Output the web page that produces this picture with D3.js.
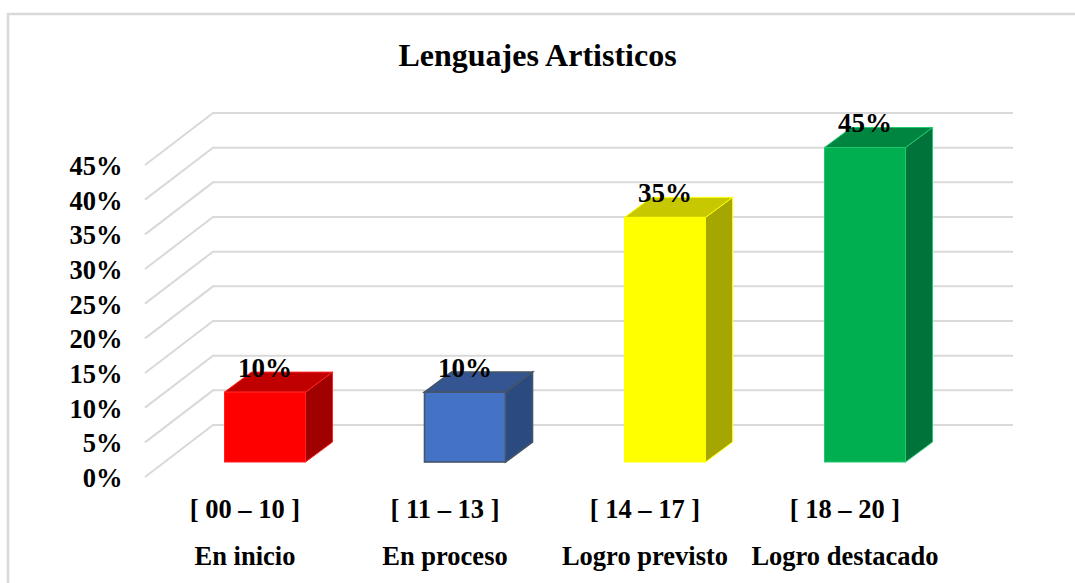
<!DOCTYPE html>
<meta charset="utf-8">
<style>
    html, body { margin: 0; padding: 0; background: #fff; }
    svg { display: block; }
    text { font-family: "Liberation Serif", serif; font-weight: bold; fill: #000; }
</style>
<svg width="1075" height="583"></svg>

<script src="https://d3js.org/d3.v7.min.js"></script>
<script>
    var ranges = ["[ 00 – 10 ]", "[ 11 – 13 ]", "[ 14 – 17 ]", "[ 18 – 20 ]"];
    var levels = ["En inicio", "En proceso", "Logro previsto", "Logro destacado"];
    var values = [10, 10, 35, 45];
    var yTicks = [0, 5, 10, 15, 20, 25, 30, 35, 40, 45];
    var frontColors = ["#ff0000", "#4472c4", "#ffff00", "#00b050"];
    var topColors = ["#c00000", "#345592", "#c8c800", "#008540"];
    var sideColors = ["#a00000", "#2b4a80", "#a6a600", "#00733a"];
    var edgeColors = ["#ff2020", "#44546a", "#ffff00", "#20c870"];

    var svg = d3.select("svg"),
        floorDx = 68,
        floorDy = 52,
        barDx = 27,
        barDy = 20,
        offX = 20,
        x = d3.scaleBand()
            .domain(levels)
            .range([145, 945])
            .paddingInner(0.595)
            .paddingOuter(0.2975),
        y = d3.scaleLinear()
            .domain([0, 45])
            .range([477, 165]),
        // las barras van mas adentro en la perspectiva, su escala es un poco mayor
        barY = d3.scaleLinear()
            .domain([0, 45])
            .range([462, 147.5]);

    // marco: solo arriba y a la izquierda, el resto queda fuera de la foto
    svg.append("path")
        .attr("d", d3.line()([[8, 583], [8, 14], [1075, 14]]))
        .attr("fill", "none")
        .attr("stroke", "#d9d9d9")
        .attr("stroke-width", 2.5);

    svg.append("text")
        .attr("x", 537.5)
        .attr("y", 66)
        .attr("text-anchor", "middle")
        .attr("font-size", 32)
        .text("Lenguajes Artisticos");

    // rejilla: pared izquierda y pared del fondo
    svg.selectAll(".grid")
        .data(yTicks)
        .enter()
        .append("polyline")
        .attr("class", "grid")
        .attr("fill", "none")
        .attr("stroke", "#d9d9d9")
        .attr("stroke-width", 2)
        .attr("points", function (d) {
            return [
                [145, y(d)],
                [145 + floorDx, y(d) - floorDy],
                [945 + floorDx, y(d) - floorDy]
            ].join(" ");
        });

    svg.selectAll(".ytick")
        .data(yTicks)
        .enter()
        .append("text")
        .attr("class", "ytick")
        .attr("x", 122.5)
        .attr("y", function (d) { return y(d) + 1.5; })
        .attr("dy", "0.32em")
        .attr("text-anchor", "end")
        .attr("font-size", 26.5)
        .text(function (d) { return d + "%"; });

    var bars = svg.selectAll(".bar")
        .data(values)
        .enter()
        .append("g")
        .attr("class", "bar")
        .attr("transform", "translate(" + offX + ",0)");

    function xi(i) { return x(levels[i]); }
    function edgeWidth(d, i) { return i === 1 ? 1.6 : 1; }

    bars.append("polygon")
        .attr("fill", function (d, i) { return sideColors[i]; })
        .attr("stroke", function (d, i) { return edgeColors[i]; })
        .attr("stroke-width", edgeWidth)
        .attr("points", function (d, i) {
            var r = xi(i) + x.bandwidth();
            return [[r, barY(d)], [r + barDx, barY(d) - barDy], [r + barDx, barY(0) - barDy], [r, barY(0)]].join(" ");
        });

    bars.append("polygon")
        .attr("fill", function (d, i) { return topColors[i]; })
        .attr("stroke", function (d, i) { return edgeColors[i]; })
        .attr("stroke-width", edgeWidth)
        .attr("points", function (d, i) {
            var l = xi(i), r = l + x.bandwidth();
            return [[l, barY(d)], [l + barDx, barY(d) - barDy], [r + barDx, barY(d) - barDy], [r, barY(d)]].join(" ");
        });

    bars.append("rect")
        .attr("x", function (d, i) { return xi(i); })
        .attr("y", function (d) { return barY(d); })
        .attr("width", x.bandwidth())
        .attr("height", function (d) { return barY(0) - barY(d); })
        .attr("fill", function (d, i) { return frontColors[i]; })
        .attr("stroke", function (d, i) { return edgeColors[i]; })
        .attr("stroke-width", edgeWidth);

    bars.append("text")
        .attr("x", function (d, i) { return xi(i) + x.bandwidth() / 2; })
        .attr("y", function (d) { return barY(d) - 15.5; })
        .attr("text-anchor", "middle")
        .attr("font-size", 27)
        .text(function (d) { return d + "%"; });

    svg.selectAll(".range")
        .data(ranges)
        .enter()
        .append("text")
        .attr("class", "range")
        .attr("x", function (d, i) { return xi(i) + x.bandwidth() / 2; })
        .attr("y", 518)
        .attr("text-anchor", "middle")
        .attr("font-size", 26.5)
        .text(function (d) { return d; });

    svg.selectAll(".level")
        .data(levels)
        .enter()
        .append("text")
        .attr("class", "level")
        .attr("x", function (d, i) { return xi(i) + x.bandwidth() / 2; })
        .attr("y", 565)
        .attr("text-anchor", "middle")
        .attr("font-size", 26.5)
        .text(function (d) { return d; });
</script>
